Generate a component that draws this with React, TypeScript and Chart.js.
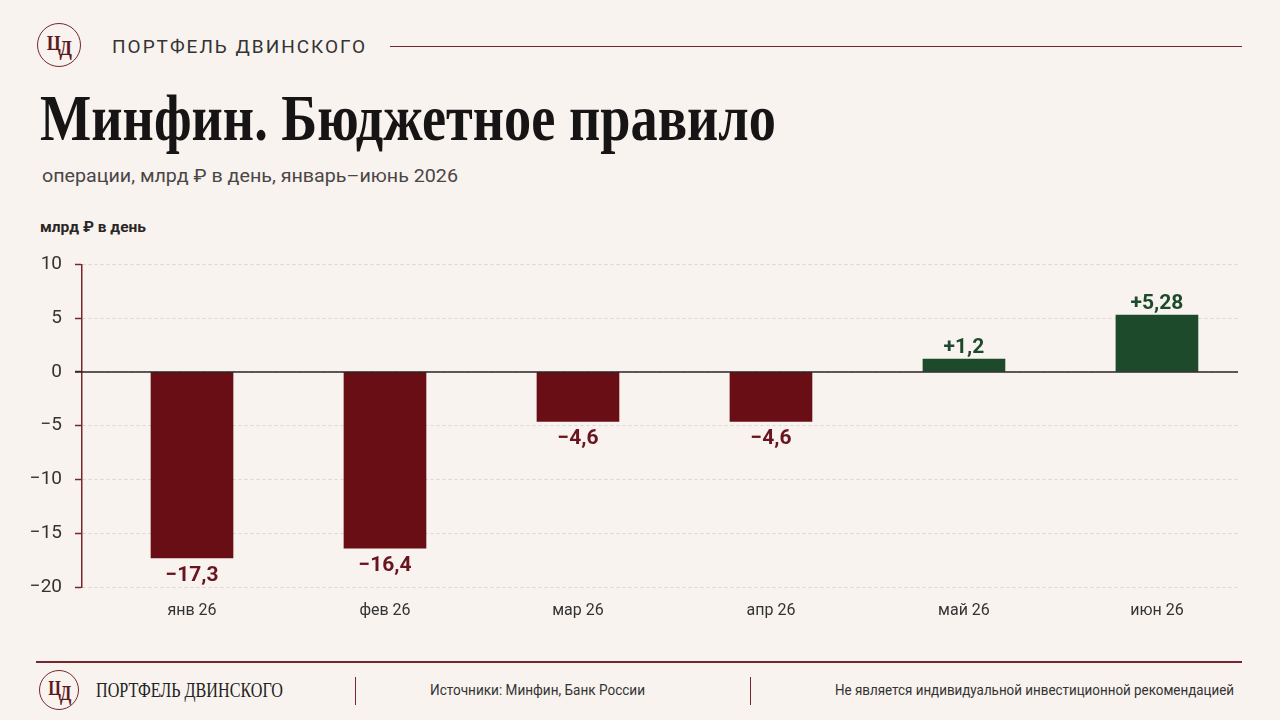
import React, { useEffect, useLayoutEffect, useRef } from 'react';
import { Chart, registerables } from 'chart.js';

Chart.register(...registerables);

// ---- data ----
const categories = ['янв 26', 'фев 26', 'мар 26', 'апр 26', 'май 26', 'июн 26'];
const values = [-17.3, -16.4, -4.6, -4.6, 1.2, 5.28];
const yMin = -20;
const yMax = 10;
const yStep = 5;
const xMin = -0.57;
const xMax = 5.42;

// ---- style ----
const BG = '#f8f3ef';
const MAROON = '#76262c';
const NEG = '#6a0e16';
const POS = '#1c4a2a';
const NEG_TEXT = '#6a1420';
const POS_TEXT = '#1d4a2c';
const SANS = "Roboto, 'Noto Sans', sans-serif";
const SERIF = "'Liberation Serif', 'DejaVu Serif', serif";

const fmtValue = (v: number) =>
  (v > 0 ? '+' : v < 0 ? '\u2212' : '') + Math.abs(v).toString().replace('.', ',');
const fmtTick = (v: number) => (v < 0 ? '\u2212' + Math.abs(v) : String(v));

function FitText({ width, style, children }: { width: number; style?: React.CSSProperties; children: React.ReactNode }) {
  const ref = useRef<HTMLSpanElement>(null);
  useLayoutEffect(() => {
    const el = ref.current;
    if (!el) return;
    el.style.transform = 'none';
    const w = el.getBoundingClientRect().width;
    if (w > 0) el.style.transform = `scaleX(${width / w})`;
  }, [width]);
  return (
    <span
      ref={ref}
      style={{ display: 'inline-block', whiteSpace: 'nowrap', transformOrigin: 'left top', ...style }}
    >
      {children}
    </span>
  );
}

function Logo({ left, top, size, fontSize }: { left: number; top: number; size: number; fontSize: number }) {
  return (
    <div
      style={{
        position: 'absolute',
        left,
        top,
        width: size,
        height: size,
        boxSizing: 'border-box',
        border: `1.8px solid ${MAROON}`,
        borderRadius: '50%',
        display: 'flex',
        alignItems: 'center',
        justifyContent: 'center',
        color: '#5e1a20',
        fontFamily: SERIF,
        fontWeight: 700,
        fontSize,
        lineHeight: 1,
      }}
    >
      <span style={{ display: 'inline-block', transform: 'scaleX(0.82)', letterSpacing: -1.5 }}>
        <span style={{ position: 'relative', top: -2 }}>Ц</span>
        <span style={{ position: 'relative', top: 3 }}>Д</span>
      </span>
    </div>
  );
}

function BarChart() {
  const canvasRef = useRef<HTMLCanvasElement>(null);
  useEffect(() => {
    const canvas = canvasRef.current;
    if (!canvas) return;

    const zeroLine = {
      id: 'zeroLine',
      afterDatasetsDraw(chart: any) {
        const { ctx, chartArea } = chart;
        const y0 = chart.scales.y.getPixelForValue(0);
        ctx.save();
        ctx.strokeStyle = '#2a2626';
        ctx.lineWidth = 1.6;
        ctx.beginPath();
        ctx.moveTo(chartArea.left - 7, y0);
        ctx.lineTo(chartArea.right, y0);
        ctx.stroke();
        ctx.restore();
      },
    };

    const valueLabels = {
      id: 'valueLabels',
      afterDatasetsDraw(chart: any) {
        const ctx = chart.ctx;
        const meta = chart.getDatasetMeta(0);
        ctx.save();
        ctx.font = `bold 21px ${SANS}`;
        ctx.textAlign = 'center';
        meta.data.forEach((el: any, i: number) => {
          const v = values[i];
          if (v < 0) {
            ctx.fillStyle = NEG_TEXT;
            ctx.textBaseline = 'top';
            ctx.fillText(fmtValue(v), el.x, el.y + 7);
          } else {
            ctx.fillStyle = POS_TEXT;
            ctx.textBaseline = 'alphabetic';
            ctx.fillText(fmtValue(v), el.x, el.y - 6);
          }
        });
        ctx.restore();
      },
    };

    const chart = new Chart(canvas, {
      type: 'bar',
      data: {
        datasets: [
          {
            data: categories.map((_, i) => ({ x: i, y: values[i] })),
            backgroundColor: values.map((v) => (v < 0 ? NEG : POS)),
            borderWidth: 0,
            barThickness: 82,
          },
        ],
      },
      options: {
        animation: false,
        responsive: false,
        maintainAspectRatio: false,
        layout: { padding: { left: 0, right: 42, top: 22, bottom: 0 } },
        plugins: { legend: { display: false }, tooltip: { enabled: false } },
        scales: {
          x: {
            type: 'linear',
            min: xMin,
            max: xMax,
            bounds: 'data',
            offset: false,
            grid: { display: false, offset: false },
            border: { display: false },
            afterBuildTicks: (s: any) => {
              s.ticks = categories.map((_, i) => ({ value: i }));
            },
            afterFit: (s: any) => {
              s.height = 43;
            },
            ticks: {
              autoSkip: false,
              maxRotation: 0,
              padding: 6,
              color: '#333',
              font: { family: SANS, size: 16 },
              callback: (v: any) => categories[v as number] ?? '',
            },
          },
          y: {
            min: yMin,
            max: yMax,
            afterFit: (s: any) => {
              s.width = 82;
            },
            ticks: {
              stepSize: yStep,
              padding: 13,
              color: '#333',
              font: { family: SANS, size: 19 },
              callback: (v: any) => fmtTick(Number(v)),
            },
            grid: {
              color: '#dcd5d0',
              lineWidth: 1,
              tickColor: MAROON,
              tickLength: 7,
              tickWidth: 1.5,
            },
            border: { color: MAROON, width: 1.5, dash: [3, 3] },
          },
        },
      } as any,
      plugins: [zeroLine, valueLabels],
    });
    return () => chart.destroy();
  }, []);
  return (
    <canvas
      ref={canvasRef}
      width={1280}
      height={390}
      style={{ position: 'absolute', left: 0, top: 240, width: 1280, height: 390 }}
    />
  );
}

export default function App() {
  useEffect(() => {
    document.body.style.margin = '0';
    document.body.style.background = BG;
  }, []);
  return (
    <div
      style={{
        position: 'absolute',
        left: 0,
        top: 0,
        width: 1280,
        height: 720,
        background: BG,
        overflow: 'hidden',
        fontFamily: SANS,
      }}
    >
      {/* header */}
      <Logo left={37} top={23} size={44} fontSize={22} />
      <div
        style={{
          position: 'absolute',
          left: 112,
          top: 37,
          fontSize: 19,
          lineHeight: '19px',
          letterSpacing: 2,
          color: '#333',
          whiteSpace: 'nowrap',
        }}
      >
        ПОРТФЕЛЬ ДВИНСКОГО
      </div>
      <div style={{ position: 'absolute', left: 390, top: 45.5, width: 852, height: 1.5, background: MAROON }} />

      <div style={{ position: 'absolute', left: 40, top: 85, fontFamily: SERIF, fontSize: 66, fontWeight: 700, lineHeight: '66px', color: '#161414' }}>
        <FitText width={736}>Минфин. Бюджетное правило</FitText>
      </div>
      <div style={{ position: 'absolute', left: 42, top: 166, fontSize: 19, lineHeight: '19px', color: '#4a4646' }}>
        <FitText width={416}>операции, млрд ₽ в день, январь–июнь 2026</FitText>
      </div>
      <div style={{ position: 'absolute', left: 40, top: 220, fontSize: 15, lineHeight: '15px', fontWeight: 700, color: '#2a2626' }}>
        <FitText width={106}>млрд ₽ в день</FitText>
      </div>

      <BarChart />

      {/* footer */}
      <div style={{ position: 'absolute', left: 36, top: 661, width: 1206, height: 2, background: MAROON }} />
      <Logo left={39} top={670} size={40} fontSize={20} />
      <div style={{ position: 'absolute', left: 96, top: 680, fontFamily: SERIF, fontSize: 20, lineHeight: '20px', color: '#222' }}>
        <FitText width={187}>ПОРТФЕЛЬ ДВИНСКОГО</FitText>
      </div>
      <div style={{ position: 'absolute', left: 354.5, top: 677, width: 1.5, height: 28, background: MAROON }} />
      <div style={{ position: 'absolute', left: 430, top: 683, fontSize: 14, lineHeight: '14px', color: '#333' }}>
        <FitText width={215}>Источники: Минфин, Банк России</FitText>
      </div>
      <div style={{ position: 'absolute', left: 749.5, top: 677, width: 1.5, height: 28, background: MAROON }} />
      <div style={{ position: 'absolute', left: 835, top: 683, fontSize: 14, lineHeight: '14px', color: '#333' }}>
        <FitText width={399}>Не является индивидуальной инвестиционной рекомендацией</FitText>
      </div>
    </div>
  );
}
